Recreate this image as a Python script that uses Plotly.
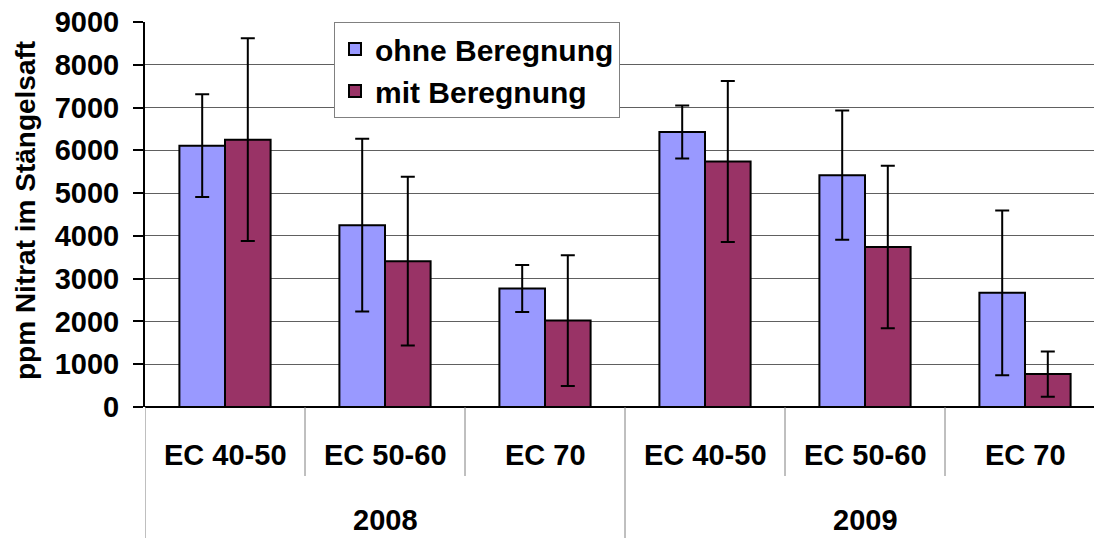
import plotly.graph_objects as go

stages = ["EC 40-50", "EC 50-60", "EC 70", "EC 40-50", "EC 50-60", "EC 70"]
years = ["2008", "2009"]
ohne = [6110, 4250, 2770, 6430, 5420, 2670]
ohne_err = [1200, 2020, 550, 620, 1510, 1925]
mit = [6250, 3410, 2020, 5740, 3740, 770]
mit_err = [2370, 1970, 1530, 1880, 1900, 530]
series_names = ["ohne Beregnung", "mit Beregnung"]
yticks = [0, 1000, 2000, 3000, 4000, 5000, 6000, 7000, 8000, 9000]

FONT = "Liberation Sans, Arial, sans-serif"
W, H = 1094, 538
L, T, B = 145, 22, 131
plot_h = H - T - B
plot_w = W - L
cat_px = 160.0

xs = list(range(len(stages)))

fig = go.Figure()
fig.add_trace(go.Bar(
    x=xs, y=ohne, name=series_names[0],
    marker=dict(color="#9999FF", line=dict(color="black", width=2)),
    error_y=dict(type="data", array=ohne_err, visible=True, color="black", thickness=2, width=7),
))
fig.add_trace(go.Bar(
    x=xs, y=mit, name=series_names[1],
    marker=dict(color="#993366", line=dict(color="black", width=2)),
    error_y=dict(type="data", array=mit_err, visible=True, color="black", thickness=2, width=7),
))

def py(pix):
    return (H - B - pix) / plot_h

ann = []
for i, s in enumerate(stages):
    ann.append(dict(x=i, y=py(455), xref="x", yref="paper", text="<b>%s</b>" % s,
                    showarrow=False, font=dict(family=FONT, size=29, color="black"),
                    xanchor="center", yanchor="middle"))
for j, yr in enumerate(years):
    ann.append(dict(x=j * 3 + 1, y=py(520), xref="x", yref="paper", text="<b>%s</b>" % yr,
                    showarrow=False, font=dict(family=FONT, size=29, color="black"),
                    xanchor="center", yanchor="middle"))
ann.append(dict(x=(25 - L) / plot_w, y=py(211), xref="paper", yref="paper",
                text="<b>ppm Nitrat im Stängelsaft</b>", textangle=-90, showarrow=False,
                font=dict(family=FONT, size=28, color="black"), xanchor="center", yanchor="middle"))

shapes = []
for k in range(len(stages)):
    xb = k - 0.5
    long = (k % 3 == 0)
    shapes.append(dict(type="line", xref="x", yref="paper", x0=xb, x1=xb,
                       y0=0, y1=py(538) if long else py(476),
                       line=dict(color="#808080", width=1)))

fig.update_layout(
    width=W, height=H,
    margin=dict(l=L, r=0, t=T, b=B),
    paper_bgcolor="white", plot_bgcolor="white",
    barmode="group", bargap=0.43, bargroupgap=0,
    showlegend=True,
    legend=dict(x=(334 - L) / plot_w, y=1.0, xanchor="left", yanchor="top",
                bgcolor="white", bordercolor="#808080", borderwidth=1,
                font=dict(family=FONT, size=30, color="black", weight="bold")),
    annotations=ann, shapes=shapes,
    font=dict(family=FONT, color="black"),
)
fig.update_xaxes(range=[-0.5, -0.5 + plot_w / cat_px], showticklabels=False, showgrid=False,
                 zeroline=False, showline=False, ticks="")
fig.update_yaxes(range=[0, 9000], tickvals=yticks, ticks="outside", ticklen=10, tickcolor="black",
                 tickwidth=1.5, showline=True, linecolor="black", linewidth=2,
                 showgrid=True, gridcolor="#606060", gridwidth=1, zeroline=True,
                 zerolinecolor="black", zerolinewidth=2,
                 tickfont=dict(family=FONT, size=29, color="black", weight="bold"),
                 ticklabelstandoff=8)

fig.write_html("out.html", config={"displayModeBar": False},
               post_script="document.body.style.margin='0';document.body.style.overflow='hidden';")
